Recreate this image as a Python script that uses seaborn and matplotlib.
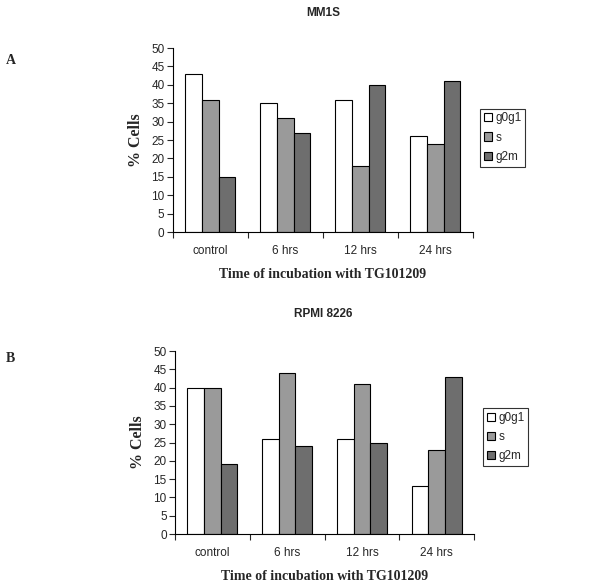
import pandas as pd
import numpy as np
import seaborn as sns
import matplotlib.pyplot as plt
from matplotlib.patches import Patch

times = ["control", "6 hrs", "12 hrs", "24 hrs"]
phases = ["g0g1", "s", "g2m"]

# MM1S
mm1s_g0g1 = [43, 35, 36, 26]
mm1s_s = [36, 31, 18, 24]
mm1s_g2m = [15, 27, 40, 41]

# RPMI 8226
rpmi_g0g1 = [40, 26, 26, 13]
rpmi_s = [40, 44, 41, 23]
rpmi_g2m = [19, 24, 25, 43]

colors = {"g0g1": "#ffffff", "s": "#9a9a9a", "g2m": "#6e6e6e"}


def make_df(g0g1, s, g2m):
    rows = []
    for name, vals in zip(phases, [g0g1, s, g2m]):
        for t, v in zip(times, vals):
            rows.append({"time": t, "phase": name, "pct": v})
    return pd.DataFrame(rows)


sns.set_style("white")
plt.rcParams["font.family"] = ["Liberation Sans Narrow", "Liberation Sans", "DejaVu Sans"]

fig = plt.figure(figsize=(6, 5.86), dpi=100)


def panel(rect, df, title, letter, title_y, letter_y, leg_anchor):
    ax = fig.add_axes(rect)
    sns.barplot(data=df, x="time", y="pct", hue="phase", order=times,
                hue_order=phases, palette=colors, width=0.667,
                edgecolor="black", linewidth=0.8, saturation=1,
                legend=False, ax=ax)
    ax.set_xlim(-0.5, 3.5)
    ax.set_ylim(0, 50)
    ax.set_yticks(np.arange(0, 51, 5))
    ax.tick_params(axis="y", direction="out", length=4, width=0.8,
                   labelsize=8.5, pad=2, left=True)
    ax.tick_params(axis="x", which="major", length=0, labelsize=8.5, pad=9)
    ax.set_xticks(np.arange(-0.5, 4, 1), minor=True)
    ax.tick_params(axis="x", which="minor", direction="out", length=4,
                   width=0.8, bottom=True)
    for side in ["top", "right"]:
        ax.spines[side].set_visible(False)
    for side in ["left", "bottom"]:
        ax.spines[side].set_color("black")
        ax.spines[side].set_linewidth(0.8)
    ax.set_xlabel("Time of incubation with TG101209", family="Liberation Serif",
                  fontweight="bold", fontsize=10, labelpad=8)
    ax.set_ylabel("% Cells", family="Liberation Serif", fontweight="bold",
                  fontsize=11.5, labelpad=5)
    fig.text(0.538, title_y, title, ha="center", va="center",
             family="Liberation Sans", fontsize=8.5, fontweight="bold")
    fig.text(0.01, letter_y, letter, ha="left", va="center",
             family="Liberation Serif", fontweight="bold", fontsize=10)
    handles = [Patch(facecolor=colors[p], edgecolor="black", linewidth=0.8,
                     label=p) for p in phases]
    leg = ax.legend(handles=handles, loc="center left",
                    bbox_to_anchor=leg_anchor, bbox_transform=fig.transFigure,
                    frameon=True, fancybox=False, fontsize=8.5,
                    handlelength=0.7, handleheight=0.7, handletextpad=0.3,
                    borderpad=0.3, labelspacing=0.62, borderaxespad=0)
    leg.get_frame().set_edgecolor("black")
    leg.get_frame().set_linewidth(0.8)
    return ax


panel([0.288, 0.604, 0.5, 0.314], make_df(mm1s_g0g1, mm1s_s, mm1s_g2m),
      "MM1S", "A", 0.977, 0.897, (0.80, 0.765))
panel([0.2917, 0.0887, 0.4983, 0.3123], make_df(rpmi_g0g1, rpmi_s, rpmi_g2m),
      "RPMI 8226", "B", 0.464, 0.389, (0.805, 0.254))

fig.savefig("out.png", dpi=100)
